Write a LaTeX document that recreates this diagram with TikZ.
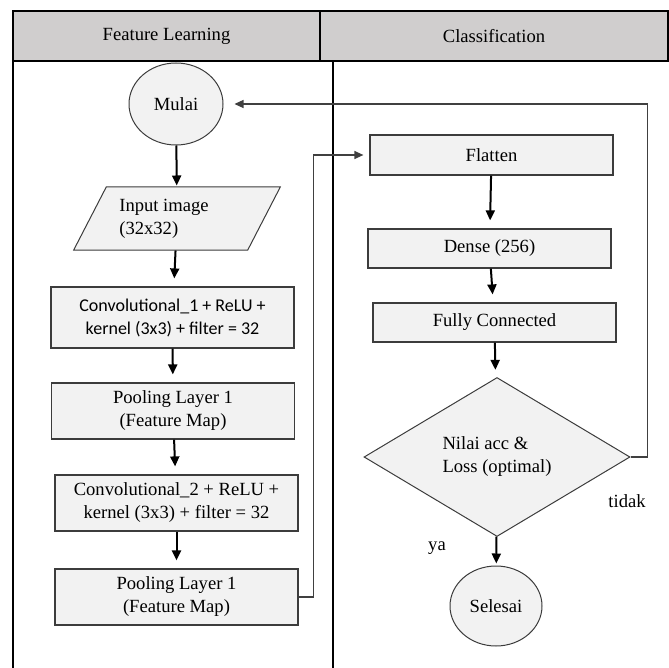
\documentclass[tikz,border=0pt]{standalone}
\usepackage{fontspec}
\setmainfont{Liberation Serif}
\newfontfamily\calibrifont{Carlito}
\usepackage{tikz}
\usetikzlibrary{shapes.geometric, arrows.meta, positioning}
\definecolor{boxfill}{RGB}{242, 242, 242}
\definecolor{headfill}{RGB}{208, 206, 206}
\definecolor{boxline}{RGB}{60, 60, 60}
\tikzstyle{process} = [rectangle, minimum width=121.5pt, minimum height=28pt, text centered, align=center, draw=boxline, line width=0.6pt, fill=boxfill, font=\fontsize{9.3}{11.5}\selectfont, inner sep=1pt]
\tikzstyle{terminal} = [ellipse, minimum width=47pt, minimum height=41pt, draw=boxline, line width=0.5pt, fill=boxfill, font=\fontsize{9.3}{11.5}\selectfont, inner sep=0pt]
\tikzstyle{io} = [trapezium, trapezium left angle=57.6, trapezium right angle=122.4, trapezium stretches=true, minimum width=104pt, minimum height=31.5pt, draw=boxline, line width=0.5pt, fill=boxfill, align=left, font=\fontsize{9.3}{11.5}\selectfont, inner sep=1pt]
\tikzstyle{decision} = [diamond, minimum width=133pt, minimum height=79.5pt, draw=boxline, line width=0.5pt, fill=boxfill, align=left, font=\fontsize{9.3}{11.5}\selectfont, inner sep=0pt]
\tikzstyle{lanehead} = [rectangle, minimum height=25pt, draw=black, line width=0.6pt, fill=headfill, font=\fontsize{9.3}{11.5}\selectfont]
\tikzstyle{arrow} = [line width=1pt, -{Triangle[length=5pt, width=4.5pt]}, shorten >=4pt]
\tikzstyle{loopline} = [line width=0.6pt, draw=black!75, -{Triangle[length=4.5pt, width=4pt]}]

\begin{document}
\begin{tikzpicture}[x=0.5pt, y=-0.5pt]
    \useasboundingbox (0,0) rectangle (668,668);

    % Swimlane header
    \node[lanehead, minimum width=153.5pt] (hfeat) at (166.5, 36) {Feature Learning};
    \node[lanehead, minimum width=174pt] (hclass) at (494, 36) {Classification};
    \draw[line width=0.6pt] (13, 61) -- (13, 668);
    \draw[line width=0.6pt] (333, 61) -- (333, 668);

    % Feature learning column
    \node[terminal] (mulai) at (176, 104) {Mulai};
    \node[io] (input) at (177, 218.5) {\raisebox{-2pt}{Input image}\hspace*{13pt}\\\raisebox{-2pt}{(32x32)}};
    \node[process, minimum height=30.5pt, font=\calibrifont\fontsize{9}{11.5}\selectfont] (conv1) at (172.5, 317.5) {Convolutional\_1 + ReLU +\\kernel (3x3) + filter = 32};
    \node[process] (pool1) at (173, 411) {Pooling Layer 1\\(Feature Map)};
    \node[process] (conv2) at (176.5, 503) {Convolutional\_2 + ReLU +\\kernel (3x3) + filter = 32};
    \node[process] (pool2) at (176.5, 597) {Pooling Layer 1\\(Feature Map)};

    % Classification column
    \node[process, minimum height=20pt] (flatten) at (491.5, 155) {Flatten};
    \node[process, minimum height=19.5pt] (dense) at (489.5, 248.5) {Dense (256)};
    \node[process, minimum height=19.5pt] (fc) at (494.5, 322.5) {Fully Connected};
    \node[decision] (cek) at (497, 457) {Nilai acc \&\\Loss (optimal)};
    \node[terminal, minimum width=46pt, minimum height=40pt] (selesai) at (496, 606) {Selesai};

    \node[font=\fontsize{9.3}{11.5}\selectfont] (tidak) at (627, 501) {tidak};
    \node[font=\fontsize{9.3}{11.5}\selectfont] (ya) at (437, 548) {ya};

    % Flow
    \draw[arrow, shorten >=0.5pt] (mulai) -- (input);
    \draw[arrow] (input) -- (conv1);
    \draw[arrow] (conv1) -- (pool1);
    \draw[arrow] (pool1) -- (conv2);
    \draw[arrow] (conv2) -- (pool2);
    \draw[loopline, shorten >=3pt] (pool2.east) -- ++(15, 0) |- (flatten.west);
    \draw[arrow] (flatten) -- (dense);
    \draw[arrow] (dense) -- (fc);
    \draw[arrow] (fc) -- (cek);
    \draw[arrow, shorten >=1pt] (cek) -- (selesai);
    \draw[loopline, shorten >=5.5pt] (cek.east) -- ++(17, 0) |- (mulai.east);
\end{tikzpicture}
\end{document}
